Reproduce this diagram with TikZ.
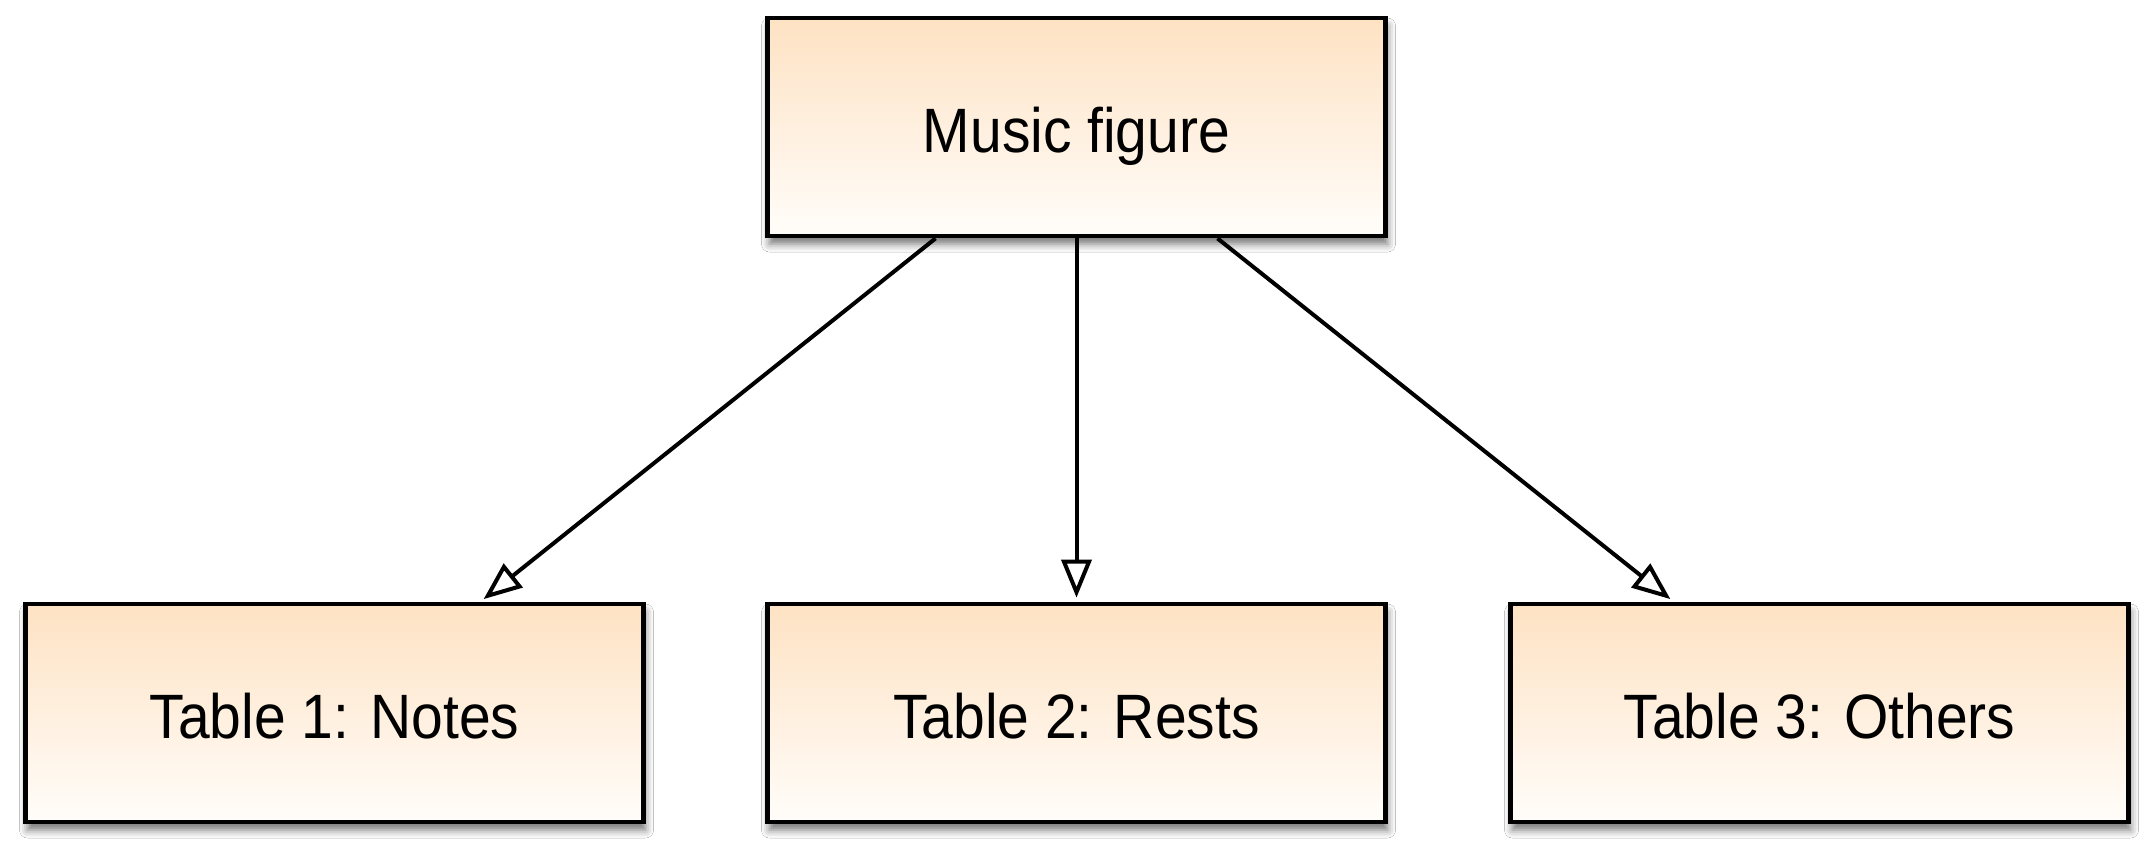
\documentclass[tikz,border=0pt]{standalone}
\usepackage{fontspec}
\usepackage{graphicx}
\setmainfont{Liberation Sans}
\usetikzlibrary{arrows.meta,calc,shadows.blur}
\definecolor{boxtop}{HTML}{FEE2C3}
\definecolor{boxbot}{HTML}{FFFDFA}
\begin{document}
\begin{tikzpicture}[x=0.5pt,y=-0.5pt,
  box/.style={draw=black, line width=2.4pt, minimum width=309pt, minimum height=109pt,
    inner sep=0pt, text height=25pt, text depth=0pt, top color=boxtop, bottom color=boxbot,
    blur shadow={shadow xshift=1pt, shadow yshift=-4pt, shadow blur radius=4pt, shadow opacity=55},
    font=\fontsize{28.5}{34}\selectfont},
  link/.style={line width=2pt, -{Triangle[open,length=19pt,width=15pt,fill=white]}, shorten >=2pt}]
\useasboundingbox (0,0) rectangle (2154,858);
\fill[white] (0,0) rectangle (2154,858);
\node[box] (top) at (1076.5,127) {\scalebox{1}[1.1]{Music figure}};
\node[box] (b1) at (334.5,713) {\scalebox{1}[1.1]{Table 1: Notes}};
\node[box] (b2) at (1076.5,713) {\scalebox{1}[1.1]{Table 2: Rests}};
\node[box] (b3) at (1819.5,713) {\scalebox{1}[1.1]{Table 3: Others}};
\draw[link] ($(top.south)+(-141,0)$) -- ($(b1.north)+(146,0)$);
\draw[link] (top.south) -- (b2.north);
\draw[link] ($(top.south)+(141,0)$) -- ($(b3.north)+(-146,0)$);
\end{tikzpicture}
\end{document}
